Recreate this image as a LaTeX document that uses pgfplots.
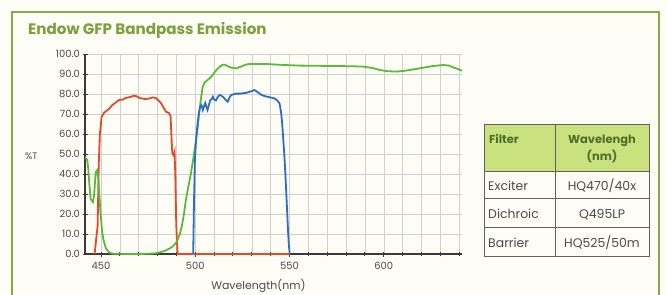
\documentclass[border=0pt]{standalone}
\usepackage{pgfplots}
\pgfplotsset{compat=1.18}
\usepackage{fontspec}
\setmainfont{Poppins}
\definecolor{bgcream}{HTML}{FDFDF6}
\definecolor{framegreen}{HTML}{86AA4A}
\definecolor{titlegreen}{HTML}{7BA03C}
\definecolor{hdrfill}{HTML}{C9E27E}
\definecolor{hdrtext}{HTML}{4F6E2A}
\definecolor{txtgray}{HTML}{4A4A4A}
\definecolor{redc}{HTML}{E8482A}
\definecolor{greenc}{HTML}{5DB83C}
\definecolor{bluec}{HTML}{2F6DC2}
\definecolor{axdark}{HTML}{3A3A3A}
\begin{document}
\begin{tikzpicture}[x=1bp,y=1bp]
\useasboundingbox (0,0) rectangle (667,-294);
\fill[bgcream] (0,0) rectangle (667,-294);
\draw[framegreen, line width=2.2bp] (12,-400) -- (12,-12) -- (659,-12) -- (659,-400);
\node[anchor=base west, inner sep=0, font=\bfseries\fontsize{15.2}{16}\selectfont, text=titlegreen] at (28,-34) {Endow GFP Bandpass Emission};
\begin{axis}[
  at={(85bp,-254bp)}, anchor=south west,
  scale only axis, width=377bp, height=200bp,
  xmin=441.5, xmax=641.5, ymin=0, ymax=100,
  axis lines*=left,
  axis line style={line width=1.3bp, color=axdark},
  xtick={450,500,550,600},
  minor xtick={450,460,...,640},
  ytick={0,10,...,100},
  grid=both,
  major grid style={color=gray!38, line width=0.5bp},
  minor grid style={color=gray!38, line width=0.5bp},
  tick align=center,
  major tick length=5bp, minor tick length=4bp,
  tick style={color=axdark, line width=1bp},
  /pgf/number format/assume math mode=true,
  yticklabel style={/pgf/number format/fixed, /pgf/number format/fixed zerofill, /pgf/number format/precision=1, font=\fontsize{10}{11}\selectfont, text=txtgray, xshift=1bp},
  xticklabel style={/pgf/number format/set thousands separator={}, font=\fontsize{10}{11}\selectfont, text=txtgray, yshift=-2bp},
  xlabel={Wavelength(nm)},
  xlabel style={font=\fontsize{11}{12}\selectfont, text=txtgray, at={(axis description cs:0.46,0)}, anchor=north, inner sep=0pt, yshift=-25bp},
  ylabel={\%T},
  ylabel style={font=\fontsize{9.5}{10}\selectfont, text=txtgray, rotate=-90, at={(axis description cs:0,0.49)}, anchor=east, xshift=-44bp},
  clip=true,
]
% red: exciter
\addplot[redc, line width=1.8bp] coordinates {
(446.6,0) (447.5,8) (448.2,14) (448.8,45) (449.4,60) (450.3,68.5) (451.5,70.5) (452.8,71.5)
(454.5,72.8) (456,74.5) (457.5,75.5) (459.5,77) (461.5,77.2) (463,78) (465.5,78.5) (467.5,79.2)
(469,78.8) (470.5,78) (472.5,77.6) (474,77.5) (475.8,77.8) (477.3,78.3) (479,78) (480.5,76.8)
(482,75.2) (483.3,73) (484.4,71.2) (486,70.5) (486.9,69) (487.4,58) (487.8,50.5) (488.5,49.3)
(489,51) (489.4,40) (489.9,15) (490.6,0) (500,0) (550,0)
};
% green: dichroic
\addplot[greenc, line width=1.8bp] coordinates {
(441.5,48.5) (442.7,47) (443.3,42) (443.8,35) (444.5,27.5) (445.7,26) (446.3,29) (446.8,36)
(447.2,41) (448,42) (448.6,37) (449.2,28) (449.8,20) (450.5,12) (451.2,7.5) (452.5,3) (454.3,0.8)
(456,0.2) (465,0) (475,0.1) (479,0.4) (482,1) (484.4,1.8) (486.5,2.8) (488,3.8) (489.5,5.2)
(490.6,7) (491.8,10) (492.9,14) (494,20) (495,27) (496.3,33.5) (497.7,40.3) (499,48) (500.4,57)
(501.3,63.5) (502,70) (503,77.5) (503.9,83.5) (505,85.8) (506.5,87) (508,88.2) (509.2,89.5)
(510.5,91.2) (512,92.8) (513.5,94) (514.5,94.6) (515.8,94.6) (517,94) (519,93.2) (521.6,92.8)
(524,93.6) (526.5,94.6) (528.7,95) (533,95) (537.6,95) (545,94.6) (555.3,94.2) (565,94.1)
(573,94) (582,93.9) (589,93.7) (594,93) (597.9,92) (602,91.4) (606.8,91.2) (611,91.6)
(615.6,92.3) (620,93) (626.2,94) (631.6,94.5) (634.5,94.2) (636.9,93.3) (639,92.6) (641.5,91.7)
};
% blue: barrier
\addplot[bluec, line width=1.8bp] coordinates {
(498.9,0) (499.3,25) (499.8,47) (500.5,58) (501.2,65) (502,71) (502.6,73.8) (503.3,74.5)
(504,72) (504.7,74) (505.3,75.5) (506,73.2) (506.5,72) (507.2,74.5) (508,77) (508.7,77.5)
(509.3,78.6) (510,77.2) (511,76.8) (511.8,78.3) (512.8,79.5) (513.8,79.2) (515,78.3) (516.2,77)
(517.2,76.2) (518.2,78.3) (519,79.5) (520.2,79.8) (521.6,80.2) (524,80.2) (527,80.6) (529.5,81.3)
(531.4,82) (533,81) (535,79.6) (537,78.9) (539.4,78.4) (542,77.8) (543.5,76.8) (544.7,75.3)
(545.5,71) (546.1,65.3) (546.7,57) (547.3,48.7) (547.8,40) (548.2,32) (548.7,22) (549.1,13.7)
(549.6,5) (550.1,0)
};
\end{axis}
% table
\fill[hdrfill] (484,-124) rectangle (649,-171);
\draw[axdark!80, line width=0.9bp] (484,-124) rectangle (649,-256);
\draw[axdark!80, line width=0.9bp] (555,-124) -- (555,-256);
\draw[axdark!80, line width=0.9bp] (484,-171) -- (649,-171);
\draw[axdark!80, line width=0.9bp] (484,-198) -- (649,-198);
\draw[axdark!80, line width=0.9bp] (484,-227) -- (649,-227);
\node[anchor=base west, inner sep=0, font=\bfseries\fontsize{11.5}{12}\selectfont, text=hdrtext] at (489,-143) {Filter};
\node[anchor=base, inner sep=0, font=\bfseries\fontsize{11.5}{12}\selectfont, text=hdrtext] at (602,-143) {Wavelengh};
\node[anchor=base, inner sep=0, font=\bfseries\fontsize{11.5}{12}\selectfont, text=hdrtext] at (602,-160) {(nm)};
\node[anchor=base west, inner sep=0, font=\fontsize{12.5}{13}\selectfont, text=txtgray] at (488,-190) {Exciter};
\node[anchor=base west, inner sep=0, font=\fontsize{12.5}{13}\selectfont, text=txtgray] at (488,-218) {Dichroic};
\node[anchor=base west, inner sep=0, font=\fontsize{12.5}{13}\selectfont, text=txtgray] at (488,-247) {Barrier};
\node[anchor=base, inner sep=0, font=\fontsize{12.5}{13}\selectfont, text=txtgray] at (602,-190) {HQ470/40x};
\node[anchor=base, inner sep=0, font=\fontsize{12.5}{13}\selectfont, text=txtgray] at (602,-218) {Q495LP};
\node[anchor=base, inner sep=0, font=\fontsize{12.5}{13}\selectfont, text=txtgray] at (602,-247) {HQ525/50m};
\end{tikzpicture}
\end{document}
